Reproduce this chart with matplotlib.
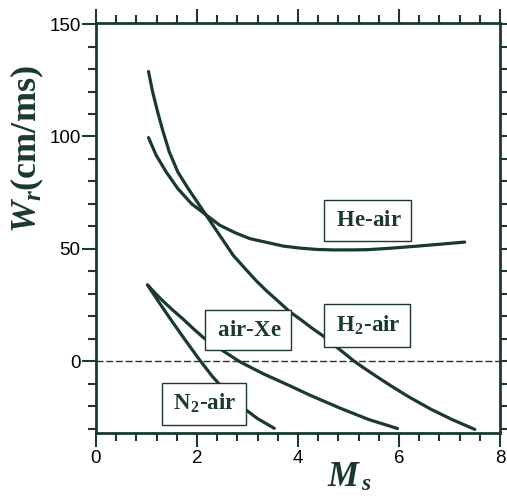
import matplotlib.pyplot as plt
from matplotlib.ticker import MultipleLocator

plt.rcParams['mathtext.fontset'] = 'custom'
plt.rcParams['mathtext.rm'] = 'Liberation Serif:bold'
plt.rcParams['mathtext.it'] = 'Liberation Serif:italic:bold'
plt.rcParams['mathtext.bf'] = 'Liberation Serif:bold'

ink = '#1b3a2d'

# reflected shock speed W_r (cm/ms) vs incident shock Mach number
he_ms = [1.04, 1.19, 1.39, 1.62, 1.89, 2.15, 2.45, 2.75, 3.05, 3.45, 3.71, 4.04,
         4.38, 4.7, 5.04, 5.37, 5.8, 6.37, 6.85, 7.3]
he_w = [99.5, 91.7, 84.2, 76.8, 70.1, 65.6, 60.5, 57.2, 54.5, 52.5, 51.2, 50.3,
        49.7, 49.5, 49.5, 49.6, 50.2, 51.2, 52.1, 53]

h2_ms = [1.04, 1.12, 1.22, 1.32, 1.45, 1.62, 1.82, 2.0, 2.18, 2.45, 2.72, 2.98,
         3.18, 3.38, 3.58, 3.84, 4.04, 4.27, 4.51, 4.75, 5.0, 5.11, 5.3, 5.6,
         5.84, 6.2, 6.63, 7.05, 7.5]
h2_w = [128.9, 120, 111, 102.8, 93.2, 84.2, 77, 71, 65, 56, 47, 40.5,
        35.6, 31.2, 27.2, 21.9, 18.7, 14.8, 11, 6.5, 2.0, 0, -3, -7.5,
        -11, -16, -21.4, -26, -30.4]

xe_ms = [1.02, 1.17, 1.32, 1.52, 1.72, 1.92, 2.12, 2.3, 2.5, 2.85, 3.3, 3.84,
         4.24, 4.84, 5.4, 5.97]
xe_w = [33.9, 30.3, 26.9, 22.7, 18.8, 14.6, 10.6, 7.7, 4.8, -0.3, -5.5, -11,
        -15.2, -21, -26, -30]

n2_ms = [1.02, 1.25, 1.5, 1.75, 2.05, 2.3, 2.6, 2.91, 3.2, 3.53]
n2_w = [33.9, 26.1, 17.9, 9.9, 0.6, -6.7, -14.2, -20.7, -25.6, -29.9]

labels = ['He-air', 'H$_2$-air', 'air-Xe', 'N$_2$-air']
label_ms = [5.38, 5.37, 3.01, 2.14]
label_w = [62.6, 15.8, 13.7, -19]

fig = plt.figure(figsize=(5.07, 4.96), dpi=100)
ax = fig.add_axes([0.1893, 0.127, 0.797, 0.8266])

for xs, ys in [(he_ms, he_w), (h2_ms, h2_w), (xe_ms, xe_w), (n2_ms, n2_w)]:
    ax.plot(xs, ys, color=ink, lw=2.3, solid_capstyle='round', solid_joinstyle='round')

ax.axhline(0, color=ink, lw=1.0, dashes=(5, 2))

for s, x, y in zip(labels, label_ms, label_w):
    ax.text(x, y, r'$\,$' + s + r'$\,$', ha='center', va='center', fontsize=16.5,
            family='Liberation Serif', fontweight='bold', color=ink,
            bbox=dict(boxstyle='square,pad=0.42', fc='white', ec=ink, lw=1.0))

ax.set_xlim(0, 8)
ax.set_ylim(-32, 150.5)
ax.xaxis.set_major_locator(MultipleLocator(2))
ax.xaxis.set_minor_locator(MultipleLocator(0.4))
ax.yaxis.set_major_locator(MultipleLocator(50))
ax.yaxis.set_minor_locator(MultipleLocator(10))

for sp in ax.spines.values():
    sp.set_linewidth(2.0)
    sp.set_color(ink)

ax.tick_params(which='both', direction='out', top=True, right=True, color=ink,
               width=1.5, labelcolor='black')
ax.tick_params(which='major', length=10, labelsize=13.5, pad=2)
ax.tick_params(which='minor', length=6)
ax.tick_params(axis='y', which='both', pad=1)
for lab in ax.get_xticklabels() + ax.get_yticklabels():
    lab.set_family('Liberation Sans')

fig.text(0.053, 0.70, r'$W_r$(cm/ms)', rotation=90, ha='center', va='center',
         fontsize=26, family='Liberation Serif', fontweight='bold', color=ink)
# M_s drawn in two pieces so the subscript sits low
fig.text(0.645, 0.020, r'$M$', ha='left', va='baseline', fontsize=25, color=ink)
fig.text(0.713, 0.013, r'$s$', ha='left', va='baseline', fontsize=17, color=ink)

fig.savefig('out.png', dpi=100)
